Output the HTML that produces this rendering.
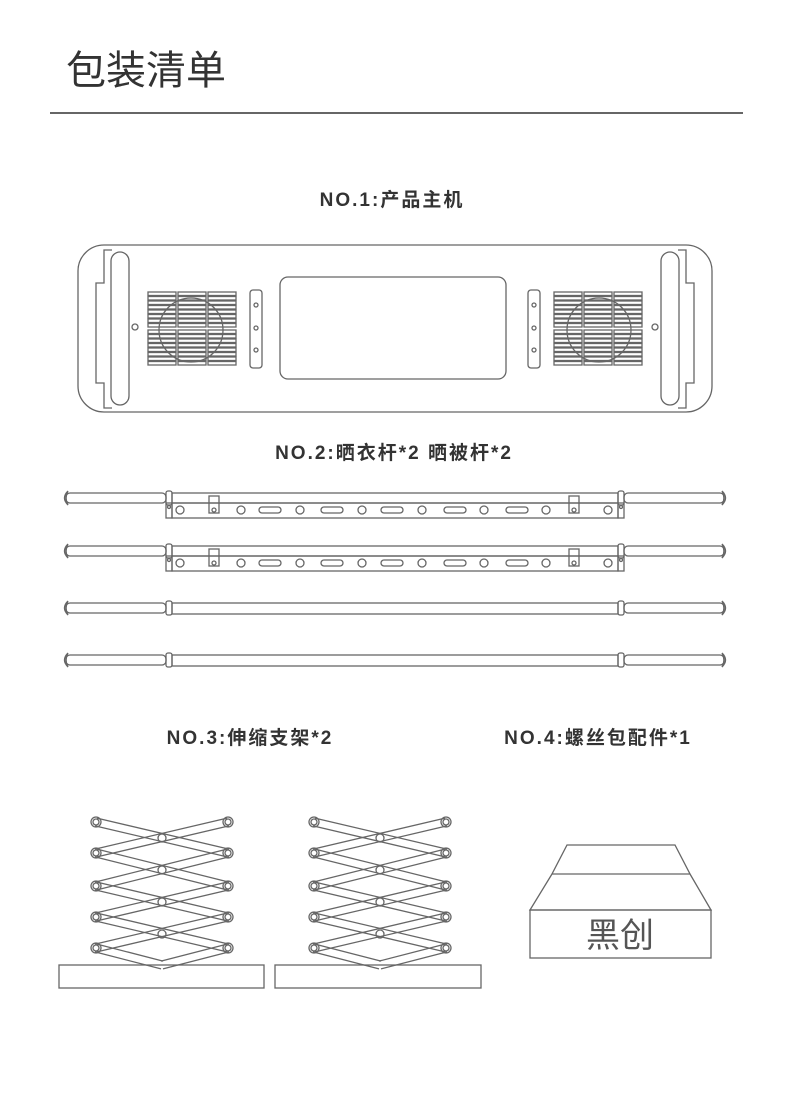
<!DOCTYPE html>
<html><head><meta charset="utf-8"><style>
body{margin:0;background:#fff;width:790px;height:1099px;overflow:hidden}
svg{display:block}
text{font-family:"Liberation Sans","Noto Sans CJK SC",sans-serif}
</style></head><body>
<svg id="s" width="790" height="1099" viewBox="0 0 790 1099" xmlns="http://www.w3.org/2000/svg">
<text x="66" y="84" font-size="40" fill="#333" font-family="Noto Sans CJK SC, sans-serif">包装清单</text>
<line x1="50" y1="113" x2="743" y2="113" stroke="#333" stroke-width="1.5"/>
<g font-size="19" fill="#333" font-weight="bold" text-anchor="middle" letter-spacing="2">
<text x="392" y="206">NO.1:产品主机</text>
<text x="394" y="459">NO.2:晒衣杆*2  晒被杆*2</text>
<text x="250" y="744">NO.3:伸缩支架*2</text>
<text x="598" y="744">NO.4:螺丝包配件*1</text>
</g>
<g id="g" fill="none" stroke="#666" stroke-width="1.3">
<rect x="78" y="245" width="634" height="167" rx="26"/>
<rect x="280" y="277" width="226" height="102" rx="8"/>
<path d="M567 845H675L690 874H552Z M552 874L530 910H711L690 874"/>
<rect x="530" y="910" width="181" height="48"/>
<rect x="59" y="965" width="205" height="23"/>
<rect x="275" y="965" width="206" height="23"/>
</g>
<text x="620" y="947" font-size="34" fill="#555" text-anchor="middle" font-family="Noto Sans CJK SC, sans-serif">黑创</text>
</svg>
<script>
var g=document.getElementById('g'),h='';
function R(x,y,w,hh,rx){h+='<rect x="'+x+'" y="'+y+'" width="'+w+'" height="'+hh+'" rx="'+(rx||0)+'"/>';}
function C(x,y,r){h+='<circle cx="'+x+'" cy="'+y+'" r="'+r+'"/>';}
function L(a,b,c,d){h+='<line x1="'+a+'" y1="'+b+'" x2="'+c+'" y2="'+d+'"/>';}
function side(m){
 function X(x){return m>0?x:790-x;}
 h+='<path d="M'+X(112)+' 250H'+X(104)+'V283H'+X(96)+'V383H'+X(104)+'V408H'+X(112)+'"/>';
 R(Math.min(X(111),X(129)),252,18,153,9);
 C(X(135),327,3);
 var cols=[148,178,208];
 cols.forEach(function(c){var x=m>0?c:790-c-28;
  for(var i=0;i<8;i++){R(x,292+i*4.5,28,3.5);R(x,330+i*4.5,28,3.5);} });
 C(X(191),330,32);
 R(Math.min(X(250),X(262)),290,12,78,3);
 [305,328,350].forEach(function(y){C(X(256),y,2);});
}
side(1);side(-1);
function rod(y,plate){
 R(66,y-5,100,10,4); h+='<path d="M68 '+(y-7)+'Q61 '+y+' 68 '+(y+7)+'Q64 '+y+' 68 '+(y-7)+'"/>';
 R(624,y-5,100,10,4); h+='<path d="M722 '+(y-7)+'Q729 '+y+' 722 '+(y+7)+'Q726 '+y+' 722 '+(y-7)+'"/>';
 R(166,y-7,6,14,2);R(618,y-7,6,14,2);
 R(172,y-5,446,plate?10:11);
 if(plate){R(172,y+5,446,15);R(166,y+5,6,15);R(618,y+5,6,15);C(169,y+9,1.5);C(621,y+9,1.5);
  [180,241,300,362,422,484,546,608].forEach(function(x){C(x,y+12,4);});
  [270,332,392,455,517].forEach(function(x){R(x-11,y+9,22,6,3);});
  [214,574].forEach(function(x){R(x-5,y-2,10,17);C(x,y+12,2);});}
}
rod(498,1);rod(551,1);rod(608,0);rod(660,0);
function sc(ox){
 var lx=ox+96,rx=ox+228,ys=[822,853,886,917,948];
 function bar(x1,y1,x2,y2){var dx=x2-x1,dy=y2-y1,l=Math.hypot(dx,dy),nx=-dy/l*4,ny=dx/l*4;
  L(x1+nx,y1+ny,x2+nx,y2+ny);L(x1-nx,y1-ny,x2-nx,y2-ny);}
 for(var i=0;i<5;i++){
  var y=ys[i],yn=i<4?ys[i+1]:965;
  if(i<4){bar(lx,y,rx,yn);bar(rx,y,lx,yn);}
  else{bar(lx,y,ox+162,965);bar(rx,y,ox+162,965);}
 }
 ys.forEach(function(y){C(lx,y,5);C(lx,y,3);C(rx,y,5);C(rx,y,3);});
 [838,870,902,934].forEach(function(y){C(ox+162,y,4);});
}
sc(0);sc(218);
g.innerHTML+=h;
</script>
</body></html>
